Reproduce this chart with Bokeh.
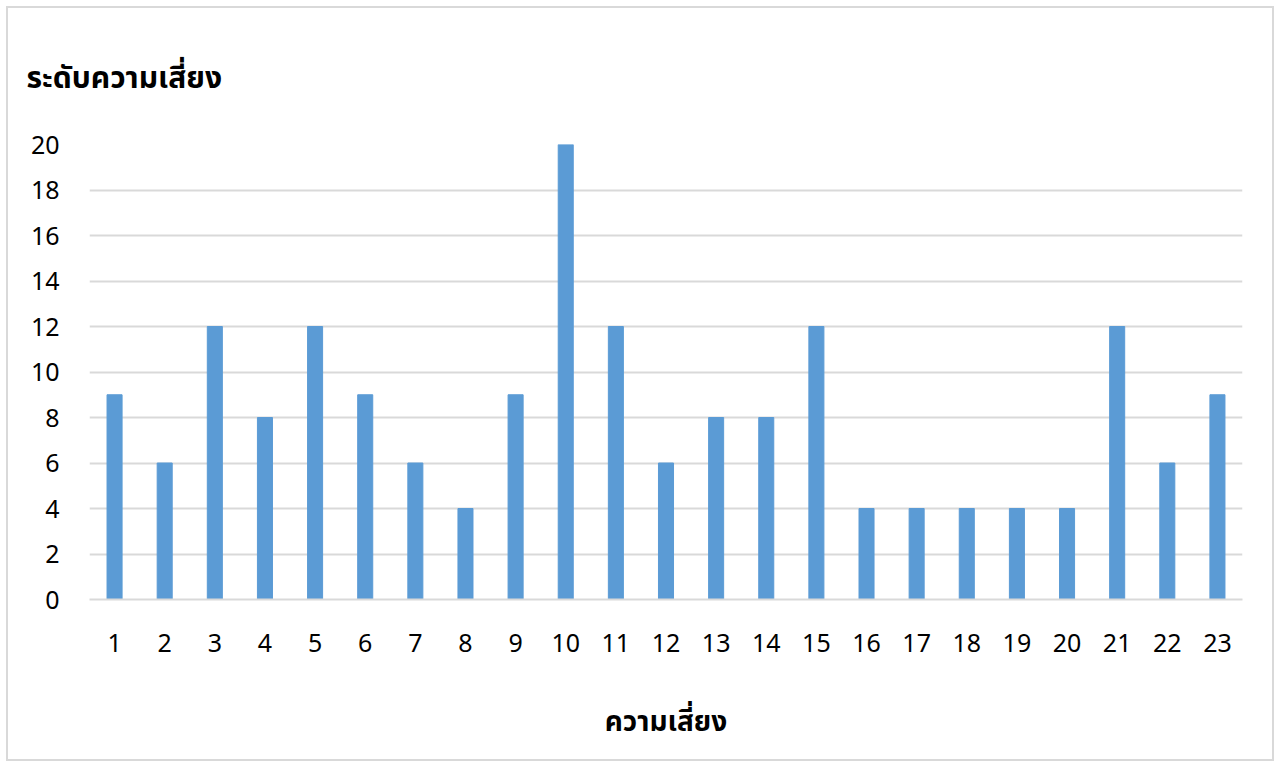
from bokeh.plotting import figure
from bokeh.models import FactorRange, Range1d, FixedTicker, Title
from bokeh.embed import file_html
from bokeh.resources import INLINE

categories = [str(i) for i in range(1, 24)]
values = [9, 6, 12, 8, 12, 9, 6, 4, 9, 20, 12, 6, 8, 8, 12, 4, 4, 4, 4, 4, 12, 6, 9]
y_ticks = list(range(0, 21, 2))

FONT = "'Noto Sans Thai', 'Noto Sans', sans-serif"

p = figure(x_range=FactorRange(*categories), y_range=Range1d(0, 20),
           frame_width=1153, frame_height=455,
           output_backend="svg", toolbar_location=None,
           min_border_left=81, min_border_right=30, min_border_top=136, min_border_bottom=160)
p.styles = {"border": "2px solid #d9d9d9", "margin": "6px"}

p.vbar(x=categories, top=values, width=0.3, fill_color="#5B9BD5", line_color="#5B9BD5")

p.title = Title(text="ระดับความเสี่ยง", align="left", text_font=FONT,
                text_font_size="30px", text_font_style="bold", text_color="#000000",
                offset=-63, standoff=85)

p.outline_line_color = None
p.background_fill_color = "white"
p.border_fill_color = "white"

p.xgrid.grid_line_color = None
p.ygrid.grid_line_color = "#d9d9d9"
p.ygrid.grid_line_width = 2
p.yaxis.ticker = FixedTicker(ticks=y_ticks)
p.yaxis.axis_line_color = None
p.yaxis.major_tick_line_color = None
p.yaxis.minor_tick_line_color = None
p.yaxis.major_label_text_font = FONT
p.yaxis.major_label_text_font_size = "25px"
p.yaxis.major_label_text_color = "#000000"
p.yaxis.major_label_standoff = 24

p.xaxis.axis_line_color = "#d9d9d9"
p.xaxis.axis_line_width = 2
p.xaxis.major_tick_line_color = None
p.xaxis.minor_tick_line_color = None
p.xaxis.major_label_text_font = FONT
p.xaxis.major_label_text_font_size = "25px"
p.xaxis.major_label_text_color = "#000000"
p.xaxis.major_label_standoff = 28
p.xaxis.axis_label = "ความเสี่ยง"
p.xaxis.axis_label_text_font = FONT
p.xaxis.axis_label_text_font_size = "28px"
p.xaxis.axis_label_text_font_style = "bold"
p.xaxis.axis_label_text_color = "#000000"
p.xaxis.axis_label_standoff = 46

open("out.html", "w").write(file_html(p, INLINE))
